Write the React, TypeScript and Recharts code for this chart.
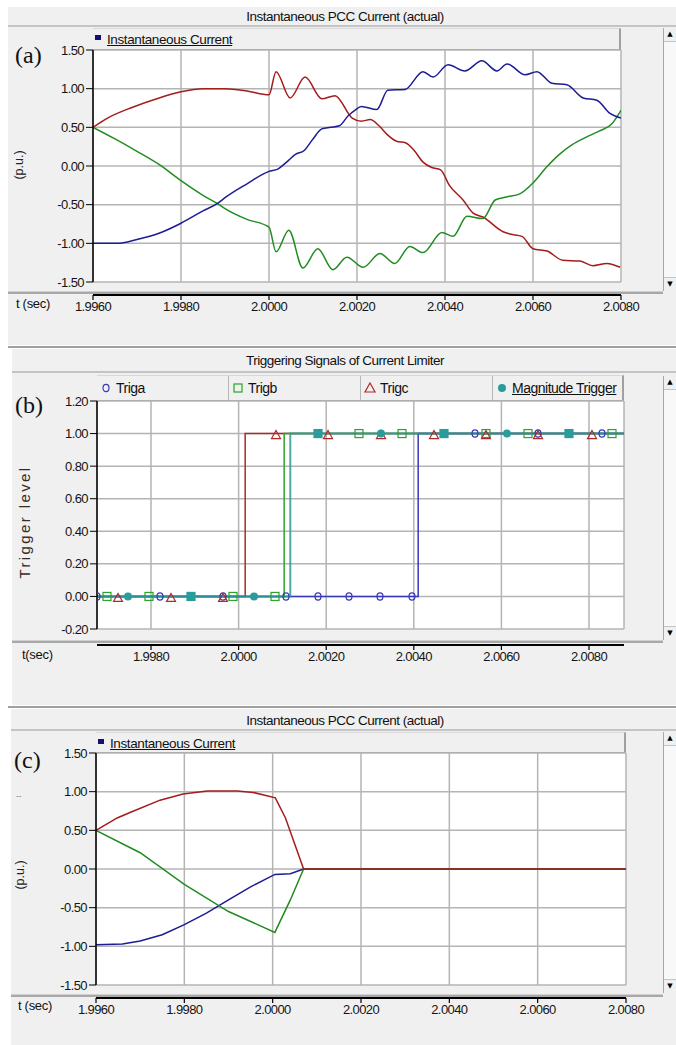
import React from 'react';
import { LineChart, ComposedChart, Line, Scatter, XAxis, YAxis, CartesianGrid } from 'recharts';

const FONT = '"Liberation Sans", Arial, sans-serif';
const SERIF = '"Liberation Serif", "Times New Roman", serif';
const BG = '#f0f0f0';
const GRID = '#b4b4b4';
const RED = '#a41c1c';
const BLUE = '#1c1c94';
const GREEN = '#218c21';

// ---------- Panel (a) data : [t (s), current (p.u.)] ----------
const RED_A = [
  [1.996, 0.5], [1.9963, 0.61], [1.9969, 0.76], [1.99745, 0.87], [1.998, 0.96], [1.9985, 1.0], [1.999, 1.0], [1.9995, 0.97], [2.0, 0.92],
  [2.00016, 1.22], [2.00048, 0.88], [2.00082, 1.15], [2.0012, 0.87], [2.0015, 0.91], [2.00189, 0.62],
  [2.0021, 0.58], [2.0023, 0.6], [2.0025, 0.52], [2.0027, 0.4], [2.0029, 0.32], [2.0031, 0.3], [2.0033, 0.2], [2.0035, 0.05], [2.0037, -0.02], [2.0039, -0.05], [2.0041, -0.25],
  [2.00441, -0.44], [2.00464, -0.61], [2.00486, -0.66], [2.00532, -0.85], [2.00548, -0.88], [2.00575, -0.91], [2.006, -1.07], [2.00632, -1.1], [2.00668, -1.22], [2.00707, -1.23], [2.00736, -1.29], [2.00768, -1.26], [2.00798, -1.31],
];
const GREEN_A = [
  [1.996, 0.5], [1.9965, 0.35], [1.997, 0.19], [1.9975, 0.02], [1.998, -0.19], [1.9985, -0.38], [1.99884, -0.49], [1.999, -0.55], [1.9995, -0.69], [2.0, -0.79],
  [2.00016, -1.11], [2.00045, -0.83], [2.00077, -1.32], [2.00111, -1.07], [2.00145, -1.34], [2.00177, -1.18], [2.00214, -1.31], [2.00252, -1.13], [2.00286, -1.26], [2.0032, -1.04], [2.0035, -1.12], [2.00393, -0.86], [2.00418, -0.91], [2.0045, -0.65], [2.00486, -0.68], [2.00514, -0.44],
  [2.0054, -0.4], [2.0057, -0.36], [2.006, -0.22], [2.0063, -0.02], [2.0066, 0.15], [2.0069, 0.28], [2.0072, 0.37], [2.0075, 0.45], [2.0078, 0.55], [2.008, 0.72],
];
const BLUE_A = [
  [1.996, -1.0], [1.99655, -1.0], [1.997, -0.95], [1.9975, -0.87], [1.998, -0.74], [1.9985, -0.58], [1.99884, -0.48], [1.999, -0.41], [1.9995, -0.23], [2.0, -0.07],
  [2.0002, -0.04], [2.0004, 0.05], [2.0006, 0.15], [2.0008, 0.2], [2.001, 0.35], [2.0012, 0.48], [2.0014, 0.5], [2.0016, 0.52], [2.0018, 0.65], [2.00195, 0.72], [2.0021, 0.77], [2.00245, 0.73],
  [2.0027, 0.98], [2.00309, 0.99], [2.0035, 1.22], [2.00373, 1.15], [2.00407, 1.31], [2.00445, 1.23], [2.00484, 1.36], [2.00518, 1.23], [2.00541, 1.32], [2.00582, 1.18], [2.00609, 1.22], [2.00643, 1.07], [2.00677, 1.05], [2.00714, 0.88], [2.00745, 0.85], [2.00775, 0.68], [2.008, 0.62],
];

// ---------- Panel (b) data ----------
const TRIGA_LINE = [[1.996767, 0], [2.0041, 0], [2.0041, 1], [2.0088, 1]];
const TRIGB_LINE = [[1.996767, 0], [2.00104, 0], [2.00104, 1], [2.0088, 1]];
const TRIGC_LINE = [[1.996767, 0], [2.00015, 0], [2.00015, 1], [2.0088, 1]];
const MAG_LINE = [[1.996767, 0], [2.00118, 0], [2.00118, 1], [2.0088, 1]];
const TRIGA_MARKS = [[1.996767, 0], [1.998205, 0], [1.999644, 0], [2.001082, 0], [2.001813, 0], [2.002521, 0], [2.003228, 0], [2.003959, 0], [2.005397, 1], [2.006836, 1], [2.008297, 1]];
const TRIGB_MARKS = [[1.996995, 0], [1.997954, 0], [1.999872, 0], [2.000831, 0], [2.002749, 1], [2.003731, 1], [2.005648, 1], [2.006607, 1], [2.008525, 1]];
const TRIGC_MARKS = [[1.997247, 0], [1.998457, 0], [1.999644, 0], [2.000854, 1], [2.002041, 1], [2.003251, 1], [2.004461, 1], [2.005648, 1], [2.006836, 1], [2.008068, 1]];
const MAG_DOT_MARKS = [[1.997475, 0], [2.000352, 0], [2.003251, 1], [2.006128, 1]];
const MAG_SQ_MARKS = [[1.998913, 0], [2.001813, 1], [2.004689, 1], [2.007543, 1]];

// ---------- Panel (c) data ----------
const RED_C = [[1.996, 0.5], [1.99648, 0.66], [1.99677, 0.73], [1.99745, 0.89], [1.99797, 0.97], [1.99852, 1.01], [1.9992, 1.01], [1.99956, 0.99], [2.00006, 0.92], [2.00029, 0.66], [2.0007, 0.0], [2.008, 0.0]];
const BLUE_C = [[1.996, -0.98], [1.9966, -0.97], [1.997, -0.93], [1.9975, -0.85], [1.998, -0.72], [1.9985, -0.57], [1.999, -0.4], [1.9995, -0.23], [2.00005, -0.07], [2.0004, -0.06], [2.0007, 0.0], [2.008, 0.0]];
const GREEN_C = [[1.996, 0.5], [1.997, 0.21], [1.998, -0.2], [1.999, -0.55], [2.00005, -0.82], [2.0004, -0.4], [2.0007, 0.0], [2.008, 0.0]];

// ---------- axes ----------
const X_TICKS_AC = [1.996, 1.998, 2.0, 2.002, 2.004, 2.006, 2.008];
const X_TICKS_B = [1.998, 2.0, 2.002, 2.004, 2.006, 2.008];
const Y_TICKS_AC = [-1.5, -1.0, -0.5, 0, 0.5, 1.0, 1.5];
const Y_TICKS_B = [-0.2, 0, 0.2, 0.4, 0.6, 0.8, 1.0, 1.2];
const X_DOMAIN_AC = [1.996, 2.008];
const X_DOMAIN_B = [1.996767, 2.008799];

const toPts = (arr: number[][]) => arr.map(([t, v]) => ({ t, v }));
const f4 = (v: number) => v.toFixed(4);
const f2 = (v: number) => v.toFixed(2);

const tickStyle = { fill: '#141414', fontSize: 13, fontFamily: FONT, letterSpacing: -0.6 };

// x-axis ticks drawn in the separate axis band below the plot
const makeXTick = (off: number) => (props: any) => {
  const { x, y, payload } = props;
  const ay = y + off;
  return (
    <g>
      <line x1={x} x2={x} y1={ay} y2={ay + 5} stroke="#000" strokeWidth={1.2} />
      <text x={x} y={ay + 7} dy="0.71em" textAnchor="middle" fill="#141414" fontSize={13} fontFamily={FONT} letterSpacing={-0.6}>{f4(payload.value)}</text>
    </g>
  );
};

function Scrollbar({ top, height }: { top: number; height: number }) {
  const btn: React.CSSProperties = { position: 'absolute', left: 0, width: 12, height: 13, fontSize: 7, lineHeight: '13px', textAlign: 'center', color: '#000', background: '#f0f0f0', fontFamily: '"DejaVu Sans", sans-serif' };
  return (
    <div style={{ position: 'absolute', left: 663, top, width: 13, height, background: '#f8f8f8', borderLeft: '1px solid #a8a8a8', boxSizing: 'border-box' }}>
      <div style={{ ...btn, top: 0, borderBottom: '1px solid #c4c4c4' }}>▲</div>
      <div style={{ ...btn, bottom: 0, borderTop: '1px solid #c4c4c4' }}>▼</div>
    </div>
  );
}

type FrameProps = {
  bgTop: number; bgLeft: number; bgBottom: number;
  title: string; titleY: number; titleLineY: number;
  plot: { x: number; y: number; w: number; h: number };
  legendTop: number;
  bandY: number; axisY: number;
  scrollTop: number; scrollBottom: number;
  tag: string; tagX: number; tagY: number;
  yLabel: string; yLabelX: number; yLabelY: number; yLabelSize: number; yLabelColor: string; yLabelSpacing: number;
  tLabel: string; tLabelX: number; tLabelY: number;
  legend: React.ReactNode;
};

function Frame(p: FrameProps) {
  const legendH = p.plot.y - p.legendTop;
  return (
    <>
      <div style={{ position: 'absolute', left: p.bgLeft, top: p.bgTop, width: 676 - p.bgLeft, height: p.bgBottom - p.bgTop, background: BG }} />
      <div style={{ position: 'absolute', left: p.bgLeft, top: p.titleLineY, width: 676 - p.bgLeft, height: 2, background: '#c4c4c4' }} />
      <div style={{ position: 'absolute', left: 0, width: 690, top: p.titleY - 8, height: 16, lineHeight: '16px', textAlign: 'center', fontFamily: FONT, fontSize: 13.5, letterSpacing: -0.5, color: '#111' }}>{p.title}</div>
      <div style={{ position: 'absolute', left: p.plot.x, top: p.legendTop, width: p.plot.w, height: legendH, background: BG, borderTop: '1px solid #d8d8d8', borderRight: '2px solid #a0a0a0', boxSizing: 'border-box' }}>{p.legend}</div>
      <div style={{ position: 'absolute', left: p.plot.x, top: p.plot.y - 1, width: p.plot.w, height: 2, background: '#9a9a9a' }} />
      <div style={{ position: 'absolute', left: p.bgLeft, top: p.bandY, width: 663 - p.bgLeft, height: 1, background: '#d0d0d0' }} />
      <div style={{ position: 'absolute', left: p.bgLeft, top: p.bandY + 1, width: 663 - p.bgLeft, height: 2, background: '#a8a8a8' }} />
      <div style={{ position: 'absolute', left: p.plot.x, top: p.axisY - 1, width: p.plot.w, height: 1.5, background: '#000' }} />
      <Scrollbar top={p.scrollTop} height={p.scrollBottom - p.scrollTop} />
      <div style={{ position: 'absolute', left: p.tagX, top: p.tagY - 14, height: 28, lineHeight: '28px', fontFamily: SERIF, fontSize: 24, color: '#111' }}>{p.tag}</div>
      <div style={{ position: 'absolute', left: p.yLabelX - 80, top: p.yLabelY - 10, width: 160, height: 20, lineHeight: '20px', textAlign: 'center', transform: 'rotate(-90deg)', fontFamily: FONT, fontSize: p.yLabelSize, letterSpacing: p.yLabelSpacing, color: p.yLabelColor, whiteSpace: 'nowrap' }}>{p.yLabel}</div>
      <div style={{ position: 'absolute', left: p.tLabelX, top: p.tLabelY - 8, height: 16, lineHeight: '16px', fontFamily: FONT, fontSize: 13, letterSpacing: -0.3, color: '#111', whiteSpace: 'nowrap' }}>{p.tLabel}</div>
    </>
  );
}

function SingleLegend({ x }: { x: number }) {
  return (
    <div style={{ position: 'absolute', left: x, top: 0, height: 20, display: 'flex', alignItems: 'center', fontFamily: FONT, fontSize: 13.5, letterSpacing: -0.4, color: '#111' }}>
      <span style={{ display: 'inline-block', width: 6, height: 5, background: '#10107a', marginRight: 6, marginTop: -3 }} />
      <span style={{ textDecoration: 'underline' }}>Instantaneous Current</span>
    </div>
  );
}

const legendCell = (left: number, width: number, marker: React.ReactNode, label: string, underline = false, last = false) => (
  <div style={{ position: 'absolute', left, top: 0, width, height: 24, borderRight: last ? 'none' : '1px solid #b8b8b8', boxSizing: 'border-box', display: 'flex', alignItems: 'center', fontFamily: FONT, fontSize: 14, letterSpacing: -0.5, color: '#111' }}>
    <svg width={14} height={12} style={{ marginLeft: 2, marginRight: 3 }}>{marker}</svg>
    <span style={{ textDecoration: underline ? 'underline' : 'none' }}>{label}</span>
  </div>
);

const circleShape = (color: string) => (props: any) => (
  <ellipse cx={props.cx} cy={props.cy} rx={3} ry={3.6} fill="none" stroke={color} strokeWidth={1.2} />
);
const squareShape = (color: string, filled: boolean) => (props: any) => (
  <rect x={props.cx - 4} y={props.cy - 4} width={8} height={8} fill={filled ? color : 'none'} stroke={color} strokeWidth={1.2} />
);
const triShape = (color: string) => (props: any) => (
  <path d={`M${props.cx},${props.cy - 3} L${props.cx + 4.5},${props.cy + 5} L${props.cx - 4.5},${props.cy + 5} Z`} fill="none" stroke={color} strokeWidth={1.2} />
);
const dotShape = (color: string) => (props: any) => (
  <circle cx={props.cx} cy={props.cy} r={4} fill={color} />
);

const TA = '#3838b8';
const TB = '#2aa52a';
const TC = '#b02828';
const TM = '#2a9c9c';

function PanelAC({ top, data, order, xLeft, plotW, axisOff }: any) {
  const YW = 60;
  const H = 50 + 232 + 40 + 2;
  return (
    <div style={{ position: 'absolute', left: 0, top }}>
      <LineChart width={676} height={H} margin={{ top: 50, left: xLeft - YW, right: 676 - xLeft - plotW, bottom: 2 }}>
        <CartesianGrid stroke={GRID} strokeWidth={1.5} fill="#ffffff" fillOpacity={1} />
        <XAxis type="number" dataKey="t" domain={X_DOMAIN_AC} ticks={X_TICKS_AC} height={40} tickSize={0} tickMargin={0} allowDataOverflow
          axisLine={false} tickLine={false} tick={makeXTick(axisOff)} interval={0} />
        <YAxis type="number" dataKey="v" domain={[-1.5, 1.5]} ticks={Y_TICKS_AC} tickFormatter={f2} width={YW} tickSize={7} allowDataOverflow
          axisLine={{ stroke: '#000', strokeWidth: 1.5 }} tickLine={{ stroke: '#000' }} tick={tickStyle} interval={0} />
        {order.map((k: string) => (
          <Line key={k} data={toPts(data[k].pts)} dataKey="v" type={data[k].type} stroke={data[k].color} strokeWidth={1.5} dot={false} isAnimationActive={false} />
        ))}
      </LineChart>
    </div>
  );
}

export default function App() {
  return (
    <div style={{ position: 'absolute', left: 0, top: 0, width: 676, height: 1045, background: '#fff', overflow: 'hidden' }}>
      {/* ================= (a) ================= */}
      <Frame bgTop={7} bgLeft={8} bgBottom={345} title="Instantaneous PCC Current (actual)" titleY={17} titleLineY={25}
        plot={{ x: 93, y: 50, w: 528, h: 232 }} legendTop={28} bandY={291} axisY={295}
        scrollTop={28} scrollBottom={291} tag="(a)" tagX={15} tagY={55}
        yLabel="(p.u.)" yLabelX={19} yLabelY={165} yLabelSize={12.5} yLabelColor="#222" yLabelSpacing={0}
        tLabel="t (sec)" tLabelX={16} tLabelY={304}
        legend={<SingleLegend x={2} />} />
      <PanelAC top={0} xLeft={93} plotW={528} axisOff={13}
        order={['red', 'green', 'blue']}
        data={{ red: { pts: RED_A, color: RED, type: 'monotone' }, green: { pts: GREEN_A, color: GREEN, type: 'monotone' }, blue: { pts: BLUE_A, color: BLUE, type: 'monotone' } }} />

      {/* ================= (b) ================= */}
      <div style={{ position: 'absolute', left: 8, top: 346, width: 668, height: 1.5, background: '#a0a0a0' }} />
      <Frame bgTop={349} bgLeft={12} bgBottom={705} title="Triggering Signals of Current Limiter" titleY={361} titleLineY={371}
        plot={{ x: 97, y: 401, w: 527, h: 228 }} legendTop={375} bandY={640} axisY={645}
        scrollTop={376} scrollBottom={640} tag="(b)" tagX={15} tagY={405}
        yLabel="Trigger level" yLabelX={25} yLabelY={522} yLabelSize={15} yLabelColor="#3a2a22" yLabelSpacing={2.4}
        tLabel="t(sec)" tLabelX={22} tLabelY={655}
        legend={<>
          {legendCell(0, 132, <ellipse cx={7} cy={6} rx={3} ry={3.6} fill="none" stroke={TA} strokeWidth={1.2} />, 'Triga')}
          {legendCell(132, 132, <rect x={3} y={2} width={8} height={8} fill="none" stroke={TB} strokeWidth={1.2} />, 'Trigb')}
          {legendCell(264, 132, <path d="M7,1 L12,10 L2,10 Z" fill="none" stroke={TC} strokeWidth={1.2} />, 'Trigc')}
          {legendCell(396, 131, <circle cx={7} cy={6} r={4} fill={TM} />, 'Magnitude Trigger', true, true)}
        </>} />
      <div style={{ position: 'absolute', left: 0, top: 351 }}>
        <ComposedChart width={676} height={50 + 228 + 42} margin={{ top: 50, left: 97 - 60, right: 676 - 624, bottom: 2 }}>
          <CartesianGrid stroke={GRID} strokeWidth={1.5} fill="#ffffff" fillOpacity={1} />
          <XAxis type="number" dataKey="t" domain={X_DOMAIN_B} ticks={X_TICKS_B} height={40} tickSize={0} tickMargin={0} allowDataOverflow
            axisLine={false} tickLine={false} tick={makeXTick(16)} interval={0} />
          <YAxis type="number" dataKey="v" domain={[-0.2, 1.2]} ticks={Y_TICKS_B} tickFormatter={f2} width={60} tickSize={7} allowDataOverflow
            axisLine={{ stroke: '#000', strokeWidth: 1.5 }} tickLine={{ stroke: '#000' }} tick={tickStyle} interval={0} />
          <Line data={toPts(TRIGC_LINE)} dataKey="v" type="linear" stroke={TC} strokeWidth={1.5} dot={false} isAnimationActive={false} />
          <Line data={toPts(TRIGB_LINE)} dataKey="v" type="linear" stroke={TB} strokeWidth={1.5} dot={false} isAnimationActive={false} />
          <Line data={toPts(TRIGA_LINE)} dataKey="v" type="linear" stroke={TA} strokeWidth={1.5} dot={false} isAnimationActive={false} />
          <Line data={toPts(MAG_LINE)} dataKey="v" type="linear" stroke={TM} strokeWidth={2} strokeOpacity={0.85} dot={false} isAnimationActive={false} />
          <Scatter data={toPts(TRIGA_MARKS)} dataKey="v" shape={circleShape(TA)} isAnimationActive={false} />
          <Scatter data={toPts(TRIGB_MARKS)} dataKey="v" shape={squareShape(TB, false)} isAnimationActive={false} />
          <Scatter data={toPts(TRIGC_MARKS)} dataKey="v" shape={triShape(TC)} isAnimationActive={false} />
          <Scatter data={toPts(MAG_DOT_MARKS)} dataKey="v" shape={dotShape(TM)} isAnimationActive={false} />
          <Scatter data={toPts(MAG_SQ_MARKS)} dataKey="v" shape={squareShape(TM, true)} isAnimationActive={false} />
        </ComposedChart>
      </div>

      {/* ================= (c) ================= */}
      <div style={{ position: 'absolute', left: 8, top: 706, width: 668, height: 1.5, background: '#a0a0a0' }} />
      <Frame bgTop={709} bgLeft={11} bgBottom={1045} title="Instantaneous PCC Current (actual)" titleY={721} titleLineY={729}
        plot={{ x: 96, y: 753, w: 530, h: 232 }} legendTop={732} bandY={994} axisY={998}
        scrollTop={732} scrollBottom={993} tag="(c)" tagX={14} tagY={760}
        yLabel="(p.u.)" yLabelX={20} yLabelY={875} yLabelSize={12.5} yLabelColor="#222" yLabelSpacing={0}
        tLabel="t (sec)" tLabelX={18} tLabelY={1006}
        legend={<SingleLegend x={2} />} />
      <div style={{ position: 'absolute', left: 16, top: 791, fontFamily: FONT, fontSize: 8, color: '#666' }}>--</div>
      <PanelAC top={703} xLeft={96} plotW={530} axisOff={13}
        order={['blue', 'green', 'red']}
        data={{ red: { pts: RED_C, color: RED, type: 'linear' }, green: { pts: GREEN_C, color: GREEN, type: 'linear' }, blue: { pts: BLUE_C, color: BLUE, type: 'linear' } }} />
    </div>
  );
}
